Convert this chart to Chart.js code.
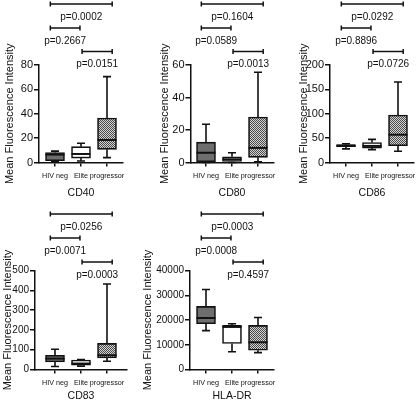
<!DOCTYPE html>
<html>
<head>
<meta charset="utf-8">
<script src="https://cdn.jsdelivr.net/npm/chart.js@4.4.0/dist/chart.umd.min.js"></script>
<style>
  body { margin: 0; background: #fff; }
  #figure { position: relative; width: 416px; height: 401px; overflow: hidden; }
  .panel { position: absolute; }
</style>
</head>
<body>
<div id="figure"></div>
<script>
const groups = ['HIV neg', 'Elite', 'progressor'];

// [min, q1, median, q3, max] for HIV neg, Elite, progressor
const cd40Stats = [[0.5, 1.5, 6.5, 8.2, 9.3], [1.2, 3.6, 7, 13, 15.8], [4, 10.8, 18.5, 36.5, 70.5]];
const cd80Stats = [[0, 0, 6, 12.5, 23.5], [0, 0.6, 2, 3.5, 6], [0.5, 3.2, 9, 28, 55.5]];
const cd86Stats = [[28, 32.5, 35, 36.5, 38.5], [26.5, 29.5, 34, 41, 47.5], [23, 34.5, 57, 97.5, 165]];
const cd83Stats = [[15, 38, 55, 72, 102], [17, 22, 30, 48, 50], [42, 58, 72, 132, 432]];
const hladrStats = [[15700, 18500, 20800, 25500, 32300], [7200, 10500, 17200, 17800, 18500], [6800, 7800, 11000, 17800, 21000]];

// p-values: HIV neg vs progressor, HIV neg vs Elite, Elite vs progressor
const cd40P = ['p=0.0002', 'p=0.2667', 'p=0.0151'];
const cd80P = ['p=0.1604', 'p=0.0589', 'p=0.0013'];
const cd86P = ['p=0.0292', 'p=0.8896', 'p=0.0726'];
const cd83P = ['p=0.0256', 'p=0.0071', 'p=0.0003'];
const hladrP = ['p=0.0003', 'p=0.0008', 'p=0.4597'];

// bracket ends, in category units
const bracketSpans = [[-0.18, 2.2], [-0.18, 0.96], [1.04, 2.2]];

const ink = '#111';
Chart.defaults.font.family = "'Liberation Sans', Arial, sans-serif";
Chart.defaults.color = ink;

const hivFill = '#6e6e6e';
const checker = document.createElement('canvas');
checker.width = 2; checker.height = 2;
const cctx = checker.getContext('2d');
cctx.fillStyle = '#d2d2d2'; cctx.fillRect(0, 0, 2, 2);
cctx.fillStyle = '#4c4c4c'; cctx.fillRect(0, 0, 1, 1); cctx.fillRect(1, 1, 1, 1);
const progFill = cctx.createPattern(checker, 'repeat');

const boxWhisker = {
  id: 'boxWhisker',
  afterDatasetsDraw(chart, args, opts) {
    const { ctx, scales: { x, y } } = chart;
    const bars = chart.getDatasetMeta(0).data;
    ctx.save();
    ctx.strokeStyle = ink;
    opts.stats.forEach((s, i) => {
      const cx = x.getPixelForValue(i);
      const [yMin, yQ1, yMed, yQ3, yMax] = s.map(v => y.getPixelForValue(v));
      const half = bars[i].width / 2;
      ctx.lineWidth = 1.6;
      ctx.beginPath();
      ctx.moveTo(cx, yQ3); ctx.lineTo(cx, yMax);
      ctx.moveTo(cx - 4, yMax); ctx.lineTo(cx + 4, yMax);
      ctx.moveTo(cx, yQ1); ctx.lineTo(cx, yMin);
      ctx.moveTo(cx - 4, yMin); ctx.lineTo(cx + 4, yMin);
      ctx.stroke();
      ctx.lineWidth = 2;
      ctx.beginPath();
      ctx.moveTo(cx - half, yMed); ctx.lineTo(cx + half, yMed);
      ctx.stroke();
    });
    ctx.restore();
  }
};

const pBrackets = {
  id: 'pBrackets',
  afterDraw(chart, args, opts) {
    const { ctx, chartArea, scales: { x } } = chart;
    ctx.save();
    ctx.strokeStyle = ink;
    ctx.fillStyle = ink;
    ctx.lineWidth = 1.5;
    ctx.font = "10px 'Liberation Sans', Arial, sans-serif";
    ctx.textAlign = 'center';
    ctx.textBaseline = 'middle';
    opts.labels.forEach((label, k) => {
      const x0 = x.getPixelForValue(bracketSpans[k][0]);
      const x1 = x.getPixelForValue(bracketSpans[k][1]);
      const yb = chartArea.top + opts.levels[k];
      ctx.beginPath();
      ctx.moveTo(x0, yb); ctx.lineTo(x1, yb);
      ctx.moveTo(x0, yb - 2.5); ctx.lineTo(x0, yb + 2.5);
      ctx.moveTo(x1, yb - 2.5); ctx.lineTo(x1, yb + 2.5);
      ctx.stroke();
      ctx.fillText(label, (x0 + x1) / 2, yb + 13);
    });
    ctx.restore();
  }
};

const topLevels = [-61, -37, -13.5];
const bottomLevels = [-56.5, -32.5, -8.5];
const catStep = 26;

const panels = [
  { title: 'CD40', stats: cd40Stats, p: cd40P, max: 80, step: 20, tickSize: 11, levels: topLevels,
    box: [0, 0, 140, 200], titleX: 10, axisX: 39, cat0: 55, top: 65, bottom: 162.5, captionY: 193 },
  { title: 'CD80', stats: cd80Stats, p: cd80P, max: 60, step: 20, tickSize: 11, levels: topLevels,
    box: [140, 0, 140, 200], titleX: 165, axisX: 190.5, cat0: 206, top: 65, bottom: 162.5, captionY: 193 },
  { title: 'CD86', stats: cd86Stats, p: cd86P, max: 200, step: 50, tickSize: 11, levels: topLevels,
    box: [280, 0, 136, 200], titleX: 303.5, axisX: 330, cat0: 346, top: 65, bottom: 162.5, captionY: 193 },
  { title: 'CD83', stats: cd83Stats, p: cd83P, max: 500, step: 100, tickSize: 10, levels: bottomLevels,
    box: [0, 200, 140, 201], titleX: 8, axisX: 35, cat0: 55, top: 270.5, bottom: 369.5, captionY: 396.5 },
  { title: 'HLA-DR', stats: hladrStats, p: hladrP, max: 40000, step: 10000, tickSize: 10, levels: bottomLevels,
    box: [140, 200, 140, 201], titleX: 147.5, axisX: 190, cat0: 206, top: 270.5, bottom: 369.5, captionY: 396.5 }
];

function makePanel(cfg) {
  const [left, top, w, h] = cfg.box;
  const div = document.createElement('div');
  div.className = 'panel';
  div.style.left = left + 'px';
  div.style.top = top + 'px';
  div.style.width = w + 'px';
  div.style.height = h + 'px';
  const canvas = document.createElement('canvas');
  canvas.width = w;
  canvas.height = h;
  div.appendChild(canvas);
  document.getElementById('figure').appendChild(div);

  const ax = cfg.axisX - left;
  const c0 = cfg.cat0 - left;
  const c1 = c0 + catStep;
  const right = 2 * c1 - ax; // caption sits under the middle group
  const padLeft = (cfg.titleX - left) - 11 * 1.2 / 2;
  const yWidth = ax - padLeft;
  const plotBottom = cfg.bottom - top;
  const xHeight = (cfg.captionY - top) + 10.5 * 1.2 / 2 - plotBottom;

  new Chart(canvas, {
    type: 'bar',
    data: {
      datasets: [{
        data: cfg.stats.map((s, i) => ({ x: i, y: [s[1], s[3]] })),
        backgroundColor: [hivFill, '#ffffff', progFill],
        borderColor: ink,
        borderWidth: 1.6,
        borderSkipped: false,
        barThickness: 19
      }]
    },
    options: {
      responsive: false,
      animation: false,
      events: [],
      layout: { padding: { left: padLeft, right: w - right, top: cfg.top - top, bottom: h - plotBottom - xHeight } },
      plugins: {
        legend: { display: false },
        tooltip: { enabled: false },
        boxWhisker: { stats: cfg.stats },
        pBrackets: { labels: cfg.p, levels: cfg.levels }
      },
      scales: {
        x: {
          type: 'linear',
          offset: false,
          min: -(c0 - ax) / catStep,
          max: (right - c0) / catStep,
          afterBuildTicks: s => { s.ticks = groups.map((g, i) => ({ value: i })); },
          afterFit: s => { s.height = xHeight; s.paddingLeft = 0; s.paddingRight = 0; },
          ticks: { callback: v => groups[v], autoSkip: false, maxRotation: 0, font: { size: 7.2 }, padding: 5 },
          grid: { offset: false, drawOnChartArea: false, tickLength: 4, color: ink, lineWidth: 1.5 },
          border: { color: ink, width: 1.5 },
          title: { display: true, text: cfg.title, font: { size: 10.5 }, padding: 0 }
        },
        y: {
          min: 0,
          max: cfg.max,
          ticks: { stepSize: cfg.step, font: { size: cfg.tickSize }, padding: 1, callback: v => String(v) },
          grid: { drawOnChartArea: false, tickLength: 5, color: ink, lineWidth: 1.5 },
          border: { color: ink, width: 1.5 },
          title: { display: true, text: 'Mean Fluorescence Intensity', font: { size: 11 }, padding: 0 },
          afterFit: s => { s.width = yWidth; s.paddingTop = 0; s.paddingBottom = 0; }
        }
      }
    },
    plugins: [boxWhisker, pBrackets]
  });
}

panels.forEach(makePanel);
</script>
</body>
</html>
